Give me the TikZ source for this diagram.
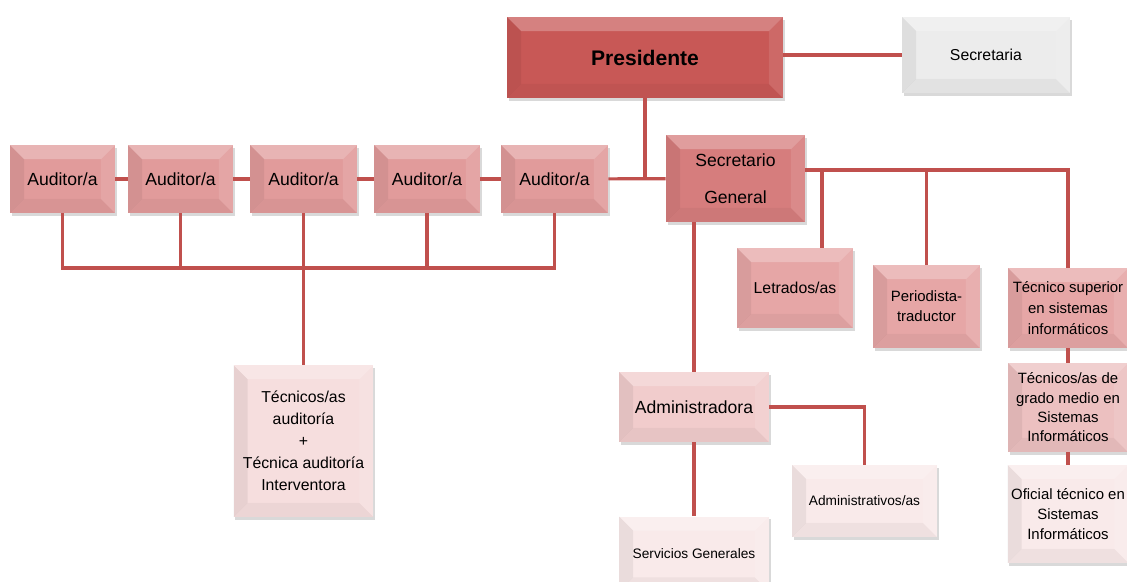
\documentclass[tikz,border=0pt]{standalone}
\usepackage{fontspec}
\setmainfont{Liberation Sans}
\usetikzlibrary{shadows,positioning}

\definecolor{linkred}{RGB}{192,80,77}
\definecolor{presfill}{RGB}{200,88,86}
\definecolor{sgfill}{RGB}{214,125,125}
\definecolor{audfill}{RGB}{225,155,155}
\definecolor{letrfill}{RGB}{230,166,166}
\definecolor{tmedfill}{RGB}{236,192,192}
\definecolor{admrafill}{RGB}{241,204,204}
\definecolor{paleredfill}{RGB}{246,222,222}
\definecolor{palefill}{RGB}{249,234,234}
\definecolor{secrfill}{RGB}{236,236,236}

% bevelled face of a box
\newcommand{\bevelbox}{%
  \fill[white,opacity=.25] (path picture bounding box.north west) -- (path picture bounding box.north east)
    -- ([shift={(-8pt,-8pt)}]path picture bounding box.north east) -- ([shift={(8pt,-8pt)}]path picture bounding box.north west) -- cycle;
  \fill[black,opacity=.06] (path picture bounding box.north west) -- ([shift={(8pt,-8pt)}]path picture bounding box.north west)
    -- ([shift={(8pt,8pt)}]path picture bounding box.south west) -- (path picture bounding box.south west) -- cycle;
  \fill[black,opacity=.04] (path picture bounding box.south west) -- ([shift={(8pt,8pt)}]path picture bounding box.south west)
    -- ([shift={(-8pt,8pt)}]path picture bounding box.south east) -- (path picture bounding box.south east) -- cycle;
  \fill[white,opacity=.1] (path picture bounding box.north east) -- (path picture bounding box.south east)
    -- ([shift={(-8pt,8pt)}]path picture bounding box.south east) -- ([shift={(-8pt,-8pt)}]path picture bounding box.north east) -- cycle;
}

\tikzset{
  orgbox/.style={fill=#1, inner sep=2pt, align=center,
    font=\fontsize{9}{12.5}\selectfont,
    drop shadow={shadow xshift=1pt, shadow yshift=-1.5pt, opacity=.3},
    path picture={\bevelbox}},
  link/.style={draw=linkred, line width=1.8pt},
}

\begin{document}
\begin{tikzpicture}[x=0.02cm, y=-0.02cm]
  \useasboundingbox (0,0) rectangle (1127,582);

  % top
  \node[orgbox=presfill, minimum width=5.52cm, minimum height=1.62cm,
        font=\fontsize{12}{14}\selectfont\bfseries] (pres) at (645,57.5) {Presidente};
  \node[orgbox=secrfill, minimum width=3.36cm, minimum height=1.52cm] (secr) at (986,55) {Secretaria};

  % auditores
  \node[orgbox=audfill, minimum width=2.1cm, minimum height=1.36cm, font=\fontsize{10}{12}\selectfont] (aud1) at (62.5,179) {Auditor/a};
  \node[orgbox=audfill, minimum width=2.1cm, minimum height=1.36cm, font=\fontsize{10}{12}\selectfont] (aud2) at (180.5,179) {Auditor/a};
  \node[orgbox=audfill, minimum width=2.14cm, minimum height=1.36cm, font=\fontsize{10}{12}\selectfont] (aud3) at (303.5,179) {Auditor/a};
  \node[orgbox=audfill, minimum width=2.12cm, minimum height=1.36cm, font=\fontsize{10}{12}\selectfont] (aud4) at (427,179) {Auditor/a};
  \node[orgbox=audfill, minimum width=2.14cm, minimum height=1.36cm, font=\fontsize{10}{12}\selectfont] (aud5) at (554.5,179) {Auditor/a};
  \node[orgbox=paleredfill, minimum width=2.8cm, minimum height=3.04cm] (tecaud) at (303.5,441)
    {T\'ecnicos/as\\auditor\'ia\\+\\T\'ecnica auditor\'ia\\Interventora};
  \coordinate (audbus) at (303.5,268);

  % secretario general
  \node[orgbox=sgfill, minimum width=2.78cm, minimum height=1.74cm, font=\fontsize{10}{12}\selectfont] (sg) at (735.5,178.5)
    {Secretario\\[9pt]General};
  \coordinate (sgbus) at (1068,170);
  \node[orgbox=letrfill, minimum width=2.32cm, minimum height=1.6cm] (letr) at (795,288) {Letrados/as};
  \node[orgbox=letrfill, minimum width=2.14cm, minimum height=1.66cm, font=\fontsize{8.5}{11.5}\selectfont] (peri) at (926.5,306.5)
    {Periodista-\\traductor};
  \node[orgbox=letrfill, minimum width=2.4cm, minimum height=1.6cm, font=\fontsize{8.5}{12}\selectfont] (tsup) at (1068,308)
    {T\'ecnico superior\\en sistemas\\inform\'aticos};
  \node[orgbox=tmedfill, minimum width=2.4cm, minimum height=1.78cm, font=\fontsize{8.5}{11}\selectfont] (tmed) at (1068,407.5)
    {T\'ecnicos/as de\\grado medio en\\Sistemas\\Inform\'aticos};
  \node[orgbox=palefill, minimum width=2.4cm, minimum height=1.96cm, font=\fontsize{8.5}{11.5}\selectfont] (ofic) at (1068,514)
    {Oficial t\'ecnico en\\Sistemas\\Inform\'aticos};

  % administracion
  \node[orgbox=admrafill, minimum width=3cm, minimum height=1.4cm, font=\fontsize{10}{12}\selectfont] (admra) at (694,407) {Administradora};
  \node[orgbox=palefill, minimum width=2.9cm, minimum height=1.44cm, font=\fontsize{7.8}{10}\selectfont] (admvos) at (864.5,501) {Administrativos/as};
  \node[orgbox=palefill, minimum width=3cm, minimum height=1.5cm, font=\fontsize{7.8}{10}\selectfont] (serv) at (694,554) {Servicios Generales};

  % connectors
  \draw[link] (secr.west) -- (secr.west -| pres.east);
  \draw[link] (pres.south) -- (pres.south |- sg.west);
  \draw[link] (aud1) -- (aud2);
  \draw[link] (aud2) -- (aud3);
  \draw[link] (aud3) -- (aud4);
  \draw[link] (aud4) -- (aud5);
  \draw[link] (aud5) -- (sg);
  \draw[link] (aud1.south) |- (audbus) -| (aud5.south);
  \draw[link] (aud2.south) -- (aud2.south |- audbus);
  \draw[link] (aud4.south) -- (aud4.south |- audbus);
  \draw[link] (aud3.south) -- (tecaud.north);

  \draw[link] (sg.east |- sgbus) -- (sgbus) -- (tsup.north);
  \draw[link] ([xshift=.54cm]letr.north) -- ([xshift=.54cm]letr.north |- sgbus);
  \draw[link] (peri.north) -- (peri.north |- sgbus);
  \draw[link] (tsup) -- (tmed);
  \draw[link] (tmed) -- (ofic);

  \draw[link] (admra.north |- sg.south) -- (admra.north);
  \draw[link] (admra.east) -| (admvos.north);
  \draw[link] (admra.south) -- (serv.north);
\end{tikzpicture}
\end{document}
